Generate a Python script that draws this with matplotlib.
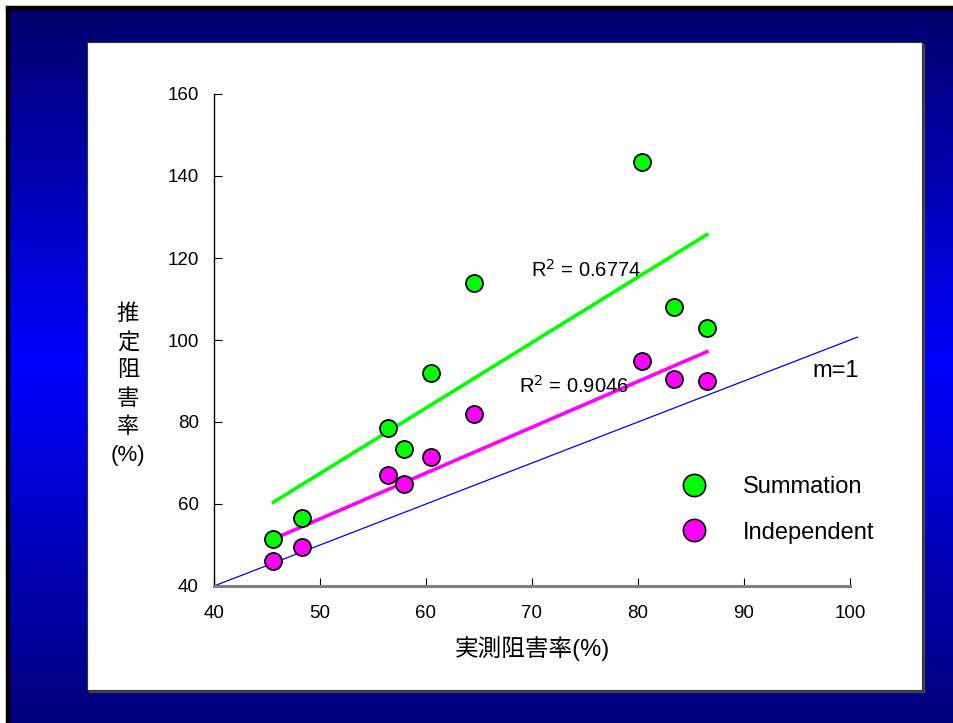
import numpy as np
from matplotlib import pyplot as plt
from matplotlib.lines import Line2D
from matplotlib.patches import Rectangle

# measured inhibition (x) and estimated inhibition for each model (y)
measured = [45.6, 48.3, 56.4, 57.9, 60.5, 64.5, 80.4, 83.4, 86.5]
summation = [51.5, 56.5, 78.5, 73.5, 92.0, 113.8, 143.3, 108.0, 103.0]
independent = [46.0, 49.5, 67.0, 65.0, 71.5, 82.0, 95.0, 90.5, 90.0]
r2_labels = ["0.6774", "0.9046"]
m1_x = [40, 100.7]
xticks = [40, 50, 60, 70, 80, 90, 100]
yticks = [40, 60, 80, 100, 120, 140, 160]

fonts = ['Liberation Sans', 'Noto Sans CJK JP', 'DejaVu Sans']
plt.rcParams['font.family'] = fonts

W, H = 954, 723
fig = plt.figure(figsize=(W / 100, H / 100), dpi=100)
fig.patch.set_facecolor('white')

# background: vertical blue gradient, black edge on top/left, white panel
bg = fig.add_axes([0, 0, 1, 1])
bg.set_xlim(0, W)
bg.set_ylim(H, 0)
bg.axis('off')
t = np.linspace(0, 1, 256)
r = np.zeros_like(t)
g = np.zeros_like(t)
b = np.interp(t, [0, 0.5, 1], [0.42, 1.0, 0.48])
grad = np.dstack([r, g, b]).reshape(256, 1, 3)
bg.imshow(grad, extent=[6, W, H, 6], aspect='auto')
bg.add_patch(Rectangle((6, 6), W, 3, color='black'))
bg.add_patch(Rectangle((6, 6), 3, H, color='black'))
bg.add_patch(Rectangle((89, 44), 835, 648, color='#444444'))
bg.add_patch(Rectangle((87, 42), 835, 648, facecolor='white', edgecolor='#333333', lw=0.8))

ax = fig.add_axes([214 / W, 1 - 586 / H, 636 / W, 492 / H])
ax.set_facecolor('none')
ax.set_xlim(40, 100)
ax.set_ylim(40, 160)
ax.set_xticks(xticks)
ax.set_yticks(yticks)
ax.tick_params(direction='in', labelsize=13.5, length=6)
ax.tick_params(axis='y', pad=11)
ax.tick_params(axis='x', pad=14)
for s in ['top', 'right']:
    ax.spines[s].set_visible(False)
ax.spines['bottom'].set_color('#808080')
ax.spines['bottom'].set_linewidth(2.2)
ax.spines['left'].set_linewidth(1)

x = np.array(measured)
# m=1 reference line
ax.plot(m1_x, m1_x, color='#0000ff', lw=0.9, clip_on=False, zorder=2)

# linear trend lines
xr = np.array([x.min(), x.max()])
for ys, col in [(summation, '#00ff00'), (independent, '#ff00ff')]:
    k, c = np.polyfit(x, ys, 1)
    ax.plot(xr, k * xr + c, color=col, lw=2.6, zorder=3)

ax.scatter(x, summation, s=150, c='#00ff00', edgecolors='black', lw=1.3, zorder=4)
ax.scatter(x, independent, s=150, c='#ff00ff', edgecolors='black', lw=1.3, zorder=4)

ax.text(69.9, 117, "R$^2$ = " + r2_labels[0], fontsize=14.5, ha='left', va='center')
ax.text(68.8, 88.8, "R$^2$ = " + r2_labels[1], fontsize=14.5, ha='left', va='center')
ax.text(96.5, 92.4, "m=1", fontsize=17, ha='left', va='center')

ax.set_xlabel("実測阻害率(%)", fontsize=17, labelpad=10)
fig.text(128 / W, 1 - 385 / H, "推\n定\n阻\n害\n率\n(%)", fontsize=16,
         ha='center', va='center', linespacing=1.45, family=fonts)

handles = [Line2D([], [], ls='none', marker='o', ms=16, mfc='#00ff00', mec='black', mew=1.2),
           Line2D([], [], ls='none', marker='o', ms=16, mfc='#ff00ff', mec='black', mew=1.2)]
ax.legend(handles, ["Summation", "Independent"], loc='center left',
          bbox_to_anchor=(0.684, 0.155), frameon=False, fontsize=17,
          handletextpad=1.08, labelspacing=1.0)

fig.savefig("out.png", dpi=100)
